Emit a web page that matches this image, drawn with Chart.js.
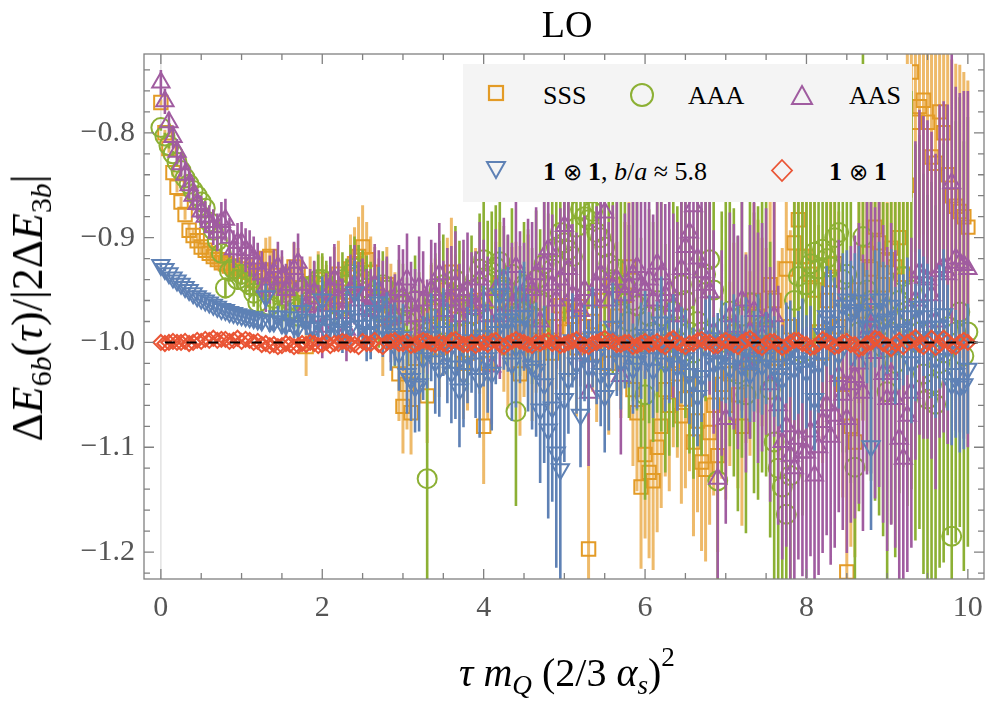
<!DOCTYPE html>
<html>
<head>
<meta charset="utf-8">
<script src="https://cdn.jsdelivr.net/npm/chart.js@4.4.1/dist/chart.umd.min.js"></script>
<style>
  body { margin: 0; background: #fff; }
  #wrap { position: relative; width: 996px; height: 705px; font-family: "Liberation Serif", "DejaVu Serif", serif; }
  #c { position: absolute; left: 0; top: 0; }
  .t { position: absolute; white-space: nowrap; color: #000; line-height: 1; font-family: "Liberation Serif", "DejaVu Serif", serif; }
  sub, sup { font-size: 0.68em; line-height: 0; }
  sub { vertical-align: -0.3em; }
  sup { vertical-align: 0.75em; }
  #title { left: 567px; top: 5px; font-size: 38px; transform: translateX(-50%); }
  #xtitle { left: 567px; top: 653px; font-size: 40px; transform: translateX(-50%); }
  #ytitle { left: 28px; top: 308px; font-size: 44px; transform: translate(-50%, -50%) rotate(-90deg); }
  #legend { position: absolute; left: 463px; top: 64px; width: 449px; height: 138px; background: #f4f4f4; }
  #legend .lt { position: absolute; font-size: 26px; line-height: 26px; white-space: nowrap; font-family: "Liberation Serif", "DejaVu Serif", serif; }
  .ot { font-family: "DejaVu Sans", sans-serif; font-weight: 200; font-size: 0.9em; }
</style>
</head>
<body>
<div id="wrap">
  <canvas id="c" width="996" height="705"></canvas>
  <div class="t" id="title">LO</div>
  <div class="t" id="ytitle">Δ<i>E</i><sub>6<i>b</i></sub>(<i>τ</i>)/|2Δ<i>E</i><sub>3<i>b</i></sub>|</div>
  <div class="t" id="xtitle"><i>τ</i> <i>m</i><sub><i>Q</i></sub> (2/3 <i>α</i><sub><i>s</i></sub>)<sup>2</sup></div>
  <div id="legend">
    <svg width="449" height="138" style="position:absolute;left:0;top:0">
      <rect x="26" y="22" width="14" height="14" fill="none" stroke="#E39B26" stroke-width="2.2"/>
      <circle cx="179" cy="31" r="11" fill="none" stroke="#8CB034" stroke-width="2"/>
      <polygon points="339,22 349,40 329,40" fill="none" stroke="#A05CA0" stroke-width="2"/>
      <polygon points="24,98 42,98 33,114" fill="none" stroke="#5E81B5" stroke-width="2"/>
      <polygon points="319,96 329,106.5 319,117 309,106.5" fill="none" stroke="#EA5535" stroke-width="1.8"/>
    </svg>
    <span class="lt" style="left:80px;top:19px">SSS</span>
    <span class="lt" style="left:225px;top:19px">AAA</span>
    <span class="lt" style="left:386px;top:19px">AAS</span>
    <span class="lt" style="left:80px;top:95px"><b>1</b> <span class="ot">⊗</span> <b>1</b>, <i>b</i>/<i>a</i> ≈ 5.8</span>
    <span class="lt" style="left:366px;top:95px"><b>1</b> <span class="ot">⊗</span> <b>1</b></span>
  </div>
</div>
<script>
// tau grid, shared by all series
const tau = [
  0.00,0.05,0.10,0.15,0.20,0.25,0.30,0.35,0.40,0.45,0.50,0.55,0.60,0.65,0.70,0.75,0.80,0.85,0.90,0.95,
  1.00,1.05,1.10,1.15,1.20,1.25,1.30,1.35,1.40,1.45,1.50,1.55,1.60,1.65,1.70,1.75,1.80,1.85,1.90,1.95,
  2.00,2.05,2.10,2.15,2.20,2.25,2.30,2.35,2.40,2.45,2.50,2.55,2.60,2.65,2.70,2.75,2.80,2.85,2.90,2.95,
  3.00,3.05,3.10,3.15,3.20,3.25,3.30,3.35,3.40,3.45,3.50,3.55,3.60,3.65,3.70,3.75,3.80,3.85,3.90,3.95,
  4.00,4.05,4.10,4.15,4.20,4.25,4.30,4.35,4.40,4.45,4.50,4.55,4.60,4.65,4.70,4.75,4.80,4.85,4.90,4.95,
  5.00,5.05,5.10,5.15,5.20,5.25,5.30,5.35,5.40,5.45,5.50,5.55,5.60,5.65,5.70,5.75,5.80,5.85,5.90,5.95,
  6.00,6.05,6.10,6.15,6.20,6.25,6.30,6.35,6.40,6.45,6.50,6.55,6.60,6.65,6.70,6.75,6.80,6.85,6.90,6.95,
  7.00,7.05,7.10,7.15,7.20,7.25,7.30,7.35,7.40,7.45,7.50,7.55,7.60,7.65,7.70,7.75,7.80,7.85,7.90,7.95,
  8.00,8.05,8.10,8.15,8.20,8.25,8.30,8.35,8.40,8.45,8.50,8.55,8.60,8.65,8.70,8.75,8.80,8.85,8.90,8.95,
  9.00,9.05,9.10,9.15,9.20,9.25,9.30,9.35,9.40,9.45,9.50,9.55,9.60,9.65,9.70,9.75,9.80,9.85,9.90,9.95,
  10.00
];

// SSS
const sss = [
  -0.771,-0.800,-0.815,-0.838,-0.852,-0.866,-0.878,-0.893,-0.898,-0.903,-0.909,-0.912,-0.915,-0.918,-0.921,-0.924,-0.925,-0.927,-0.929,-0.932,
  -0.930,-0.926,-0.933,-0.941,-0.938,-0.932,-0.920,-0.918,-0.945,-0.936,-0.940,-0.948,-0.950,-0.928,-0.935,-0.962,-1.004,-0.944,-0.955,-0.940,
  -0.948,-0.955,-0.962,-0.940,-0.935,-0.968,-0.952,-0.930,-0.925,-0.918,-0.909,-0.921,-0.933,-0.946,-0.958,-0.990,-0.945,-0.965,-0.975,-1.030,
  -1.061,-1.040,-1.067,-1.015,-1.000,-0.985,-1.051,-0.975,-0.970,-1.005,-0.985,-0.950,-0.933,-0.965,-0.990,-1.020,-1.010,-0.975,-0.960,-0.995,
  -1.080,-1.020,-0.985,-0.960,-0.945,-0.990,-1.005,-0.970,-0.960,-1.030,-0.990,-0.955,-1.015,-0.985,-0.975,-0.995,-1.000,-1.010,-0.985,-0.965,
  -0.990,-0.970,-0.975,-1.005,-0.966,-0.985,-1.197,-0.980,-1.010,-0.960,-0.990,-1.020,-0.945,-0.975,-1.000,-0.955,-0.928,-1.045,-1.067,-1.138,
  -1.107,-1.124,-1.132,-1.100,-1.080,-1.045,-1.060,-1.020,-1.030,-1.070,-1.054,-1.040,-1.095,-1.075,-1.114,-1.121,-1.086,-1.060,-1.108,-1.040,
  -1.060,-1.030,-0.990,-1.050,-1.080,-1.005,-1.020,-0.960,-0.975,-0.990,-1.000,-0.945,-0.960,-1.015,-1.010,-0.930,-0.985,-0.905,-0.883,-0.918,
  -0.918,-0.935,-0.950,-0.990,-1.010,-0.960,-0.940,-0.925,-0.985,-1.040,-1.219,-1.080,-1.095,-0.950,-0.970,-0.915,-0.930,-0.890,-0.905,-0.945,
  -0.921,-0.910,-0.928,-0.900,-0.935,-0.850,-0.742,-0.790,-0.775,-0.769,-0.790,-0.823,-0.829,-0.780,-0.800,-0.840,-0.860,-0.870,-0.875,-0.880,
  -0.890
];
const sssErr = [
  .003,.003,.004,.004,.005,.005,.005,.006,.006,.006,.007,.007,.008,.008,.009,.009,.010,.010,.011,.011,
  .012,.013,.014,.015,.016,.018,.020,.019,.018,.020,.022,.021,.020,.023,.025,.024,.028,.026,.024,.027,
  .030,.029,.028,.031,.032,.030,.030,.033,.035,.038,.040,.036,.034,.037,.038,.042,.036,.040,.042,.045,
  .045,.043,.040,.046,.048,.044,.045,.049,.050,.047,.046,.050,.052,.049,.048,.053,.055,.051,.050,.054,
  .055,.053,.052,.056,.060,.057,.058,.061,.056,.059,.062,.058,.060,.063,.058,.061,.064,.060,.060,.063,
  .065,.063,.062,.066,.068,.065,.130,.067,.066,.069,.070,.068,.068,.071,.072,.070,.070,.073,.075,.078,
  .080,.082,.085,.081,.078,.083,.082,.080,.080,.084,.085,.083,.090,.087,.085,.088,.088,.086,.092,.090,
  .090,.088,.085,.089,.095,.091,.088,.093,.092,.090,.090,.094,.095,.093,.100,.096,.092,.097,.098,.100,
  .100,.098,.095,.102,.105,.101,.100,.104,.110,.108,.120,.115,.110,.108,.105,.110,.115,.112,.110,.113,
  .115,.118,.120,.125,.130,.126,.120,.124,.125,.128,.130,.129,.128,.132,.135,.133,.130,.136,.140,.138,
  .140
];

// AAA
const aaa = [
  -0.795,-0.803,-0.812,-0.820,-0.828,-0.836,-0.843,-0.849,-0.855,-0.860,-0.866,-0.872,-0.885,-0.893,-0.903,-0.915,-0.948,-0.932,-0.930,-0.940,
  -0.935,-0.942,-0.945,-0.953,-0.962,-0.948,-0.950,-0.965,-0.958,-0.952,-0.970,-0.956,-0.960,-0.968,-0.975,-0.950,-0.955,-0.960,-0.945,-0.940,
  -0.940,-0.945,-0.950,-0.958,-0.965,-0.940,-0.945,-0.935,-0.929,-0.936,-0.940,-0.948,-0.955,-0.962,-0.970,-0.945,-0.950,-0.975,-0.985,-0.960,
  -0.965,-0.980,-0.990,-0.960,-0.975,-0.995,-1.130,-0.970,-0.960,-0.950,-0.945,-0.985,-0.975,-0.940,-0.955,-0.965,-0.990,-0.950,-0.965,-0.930,
  -0.921,-0.940,-0.933,-0.928,-0.923,-0.950,-0.960,-0.935,-1.066,-0.970,-0.945,-0.955,-0.975,-0.940,-0.960,-0.925,-0.947,-0.930,-0.909,-0.895,
  -0.905,-0.912,-0.918,-0.890,-0.873,-0.880,-0.883,-0.875,-0.895,-0.900,-0.909,-0.925,-0.940,-0.930,-0.955,-0.945,-0.980,-0.960,-0.965,-1.000,
  -1.050,-0.975,-0.990,-0.960,-0.975,-1.015,-1.000,-0.970,-0.985,-0.945,-0.960,-0.990,-1.010,-0.980,-0.990,-0.935,-0.921,-0.950,-1.132,-1.000,
  -0.985,-0.970,-1.000,-1.030,-0.975,-1.050,-0.962,-1.010,-1.010,-0.985,-0.990,-1.045,-1.095,-1.120,-1.138,-1.164,-1.127,-0.960,-0.937,-1.010,
  -0.945,-0.925,-0.914,-0.930,-0.911,-0.920,-0.928,-0.900,-0.895,-0.940,-0.935,-0.965,-1.119,-0.990,-0.899,-0.950,-0.960,-0.975,-0.985,-1.005,
  -1.047,-0.990,-1.020,-0.960,-0.937,-0.970,-0.950,-1.000,-0.990,-1.030,-1.054,-1.040,-1.059,-1.020,-1.010,-0.985,-1.185,-0.990,-0.971,-1.013,
  -0.990
];
const aaaErr = [
  .003,.003,.003,.003,.004,.004,.004,.004,.005,.005,.005,.006,.006,.006,.007,.008,.010,.009,.009,.010,
  .010,.011,.012,.013,.014,.013,.013,.015,.015,.016,.018,.017,.016,.019,.020,.019,.018,.021,.022,.024,
  .025,.023,.022,.026,.028,.026,.025,.028,.030,.029,.028,.031,.032,.033,.035,.032,.030,.034,.038,.039,
  .040,.042,.045,.043,.042,.044,.100,.046,.045,.047,.048,.049,.050,.051,.052,.053,.055,.052,.050,.053,
  .055,.056,.058,.059,.060,.061,.062,.063,.090,.062,.060,.063,.065,.066,.068,.069,.070,.071,.072,.073,
  .075,.076,.078,.079,.080,.082,.085,.083,.082,.085,.088,.089,.090,.092,.095,.094,.092,.096,.100,.100,
  .100,.102,.105,.107,.110,.109,.108,.111,.115,.113,.112,.116,.120,.119,.118,.121,.125,.122,.120,.125,
  .130,.129,.128,.131,.135,.132,.130,.134,.140,.139,.138,.141,.145,.148,.150,.149,.148,.151,.155,.155,
  .155,.158,.160,.159,.158,.162,.165,.163,.160,.165,.170,.169,.168,.171,.175,.173,.172,.176,.180,.180,
  .180,.183,.185,.184,.182,.186,.190,.189,.188,.191,.195,.193,.190,.195,.200,.199,.198,.201,.205,.205,
  .205
];

// AAS
const aas = [
  -0.752,-0.770,-0.790,-0.804,-0.818,-0.830,-0.840,-0.850,-0.860,-0.868,-0.875,-0.880,-0.885,-0.890,-0.895,-0.885,-0.883,-0.900,-0.911,-0.905,
  -0.905,-0.912,-0.915,-0.920,-0.925,-0.935,-0.947,-0.940,-0.933,-0.928,-0.938,-0.950,-0.945,-0.930,-0.924,-0.945,-0.966,-0.958,-0.952,-0.975,
  -0.985,-0.965,-0.950,-0.940,-0.958,-0.972,-0.988,-0.950,-0.945,-0.960,-0.955,-0.968,-0.970,-0.945,-0.950,-0.962,-0.960,-0.978,-0.975,-0.950,
  -0.956,-0.940,-0.965,-0.975,-0.947,-0.960,-0.985,-0.950,-0.955,-0.935,-0.970,-0.960,-0.960,-0.945,-0.975,-0.955,-0.950,-0.968,-0.965,-0.940,
  -0.960,-0.975,-1.023,-0.950,-0.975,-0.940,-0.955,-0.965,-0.928,-0.955,-0.965,-0.945,-0.950,-0.935,-0.980,-0.925,-0.911,-0.945,-0.960,-0.940,
  -0.889,-0.930,-0.955,-0.965,-0.970,-0.950,-1.048,-0.960,-0.945,-0.935,-0.876,-0.960,-0.947,-0.940,-1.032,-0.955,-0.947,-0.935,-0.928,-0.945,
  -0.950,-0.940,-0.960,-0.925,-0.935,-0.955,-0.950,-0.965,-0.975,-0.930,-0.909,-0.895,-0.870,-0.920,-0.933,-0.945,-0.952,-0.990,-1.130,-1.010,
  -1.073,-0.975,-0.985,-1.000,-0.960,-1.020,-0.990,-0.970,-1.005,-0.995,-0.980,-1.040,-0.975,-1.060,-1.095,-1.080,-1.108,-1.120,-1.092,-1.105,
  -1.105,-1.085,-1.127,-1.100,-1.076,-1.060,-1.090,-1.070,-1.032,-1.050,-1.073,-1.040,-1.033,-1.020,-1.048,-0.990,-0.985,-1.010,-1.000,-1.030,
  -1.054,-1.030,-1.054,-1.092,-1.111,-1.070,-1.048,-0.960,-0.933,-0.938,-0.940,-0.955,-0.980,-0.932,-0.928,-0.935,-0.848,-0.920,-0.924,-0.926,
  -0.930
];
const aasErr = [
  .012,.012,.010,.011,.012,.012,.012,.013,.014,.014,.015,.015,.016,.017,.018,.019,.020,.019,.018,.019,
  .020,.021,.022,.021,.020,.022,.024,.023,.022,.024,.026,.025,.024,.026,.028,.027,.026,.028,.030,.030,
  .030,.031,.032,.034,.035,.033,.030,.034,.038,.037,.035,.038,.040,.039,.038,.040,.042,.041,.040,.043,
  .045,.044,.042,.045,.048,.047,.045,.048,.050,.049,.048,.050,.052,.051,.050,.053,.055,.054,.052,.055,
  .058,.057,.055,.058,.060,.059,.058,.060,.062,.061,.060,.063,.065,.064,.062,.065,.068,.067,.065,.068,
  .070,.069,.068,.070,.072,.071,.070,.073,.075,.074,.072,.075,.078,.077,.075,.078,.080,.079,.078,.082,
  .085,.084,.082,.085,.088,.087,.085,.088,.090,.089,.088,.092,.095,.094,.092,.096,.098,.097,.095,.098,
  .100,.099,.098,.102,.105,.104,.102,.106,.110,.109,.108,.112,.115,.114,.112,.115,.118,.117,.115,.118,
  .120,.119,.118,.122,.125,.124,.122,.126,.130,.129,.128,.132,.135,.134,.132,.136,.140,.139,.138,.142,
  .145,.144,.142,.146,.150,.149,.148,.152,.155,.154,.152,.156,.160,.159,.158,.162,.165,.164,.162,.166,
  .170
];

// 1x1, b/a ~ 5.8
const oneBa = [
  -0.926,-0.930,-0.934,-0.938,-0.941,-0.944,-0.947,-0.950,-0.953,-0.956,-0.958,-0.960,-0.962,-0.964,-0.966,-0.968,-0.969,-0.971,-0.972,-0.973,
  -0.974,-0.975,-0.976,-0.977,-0.978,-0.979,-0.956,-0.980,-0.980,-0.975,-0.982,-0.983,-0.976,-0.984,-0.985,-0.970,-0.978,-0.986,-0.986,-0.980,
  -0.959,-0.988,-0.983,-0.975,-0.988,-0.990,-0.975,-0.985,-0.952,-0.978,-0.984,-0.992,-0.990,-0.970,-0.962,-0.985,-0.980,-0.995,-0.992,-1.010,
  -0.995,-1.030,-1.035,-1.042,-1.040,-1.015,-1.008,-0.995,-1.018,-1.025,-0.990,-1.010,-1.029,-1.023,-1.045,-1.030,-1.012,-0.998,-1.020,-1.035,
  -0.994,-1.015,-1.029,-0.990,-0.954,-0.978,-0.978,-1.020,-1.004,-0.985,-0.975,-1.010,-1.023,-1.026,-1.064,-1.040,-1.083,-1.062,-1.105,-1.121,
  -1.054,-1.035,-0.998,-1.020,-1.069,-1.010,-1.023,-0.995,-1.012,-1.030,-1.051,-1.035,-0.985,-1.005,-1.018,-1.000,-1.003,-1.025,-1.019,-1.008,
  -0.993,-1.015,-1.026,-1.004,-0.981,-1.020,-1.010,-0.998,-1.023,-1.012,-1.015,-1.030,-1.038,-1.051,-1.032,-1.005,-0.996,-1.020,-1.018,-1.008,
  -1.010,-1.025,-0.998,-1.012,-1.023,-1.005,-1.030,-1.018,-1.004,-1.022,-1.015,-1.000,-1.023,-1.030,-1.035,-1.010,-1.006,-1.025,-1.019,-1.008,
  -1.028,-1.015,-1.054,-1.020,-0.992,-0.975,-0.981,-0.990,-1.011,-0.965,-0.959,-0.972,-0.969,-0.960,-0.974,-0.985,-1.099,-0.968,-0.959,-0.980,
  -0.978,-0.965,-1.003,-0.990,-0.988,-0.975,-1.019,-1.000,-0.966,-0.975,-0.985,-0.995,-1.016,-0.985,-0.973,-1.005,-1.040,-1.030,-1.042,-1.040,
  -1.025
];
const oneBaErr = [
  .002,.002,.002,.002,.003,.003,.003,.003,.003,.004,.004,.004,.004,.005,.005,.005,.005,.006,.006,.006,
  .006,.007,.007,.008,.008,.009,.012,.010,.009,.010,.010,.011,.014,.012,.011,.016,.015,.013,.013,.015,
  .022,.018,.016,.019,.018,.020,.024,.022,.030,.025,.022,.026,.026,.030,.034,.029,.028,.032,.030,.036,
  .032,.038,.040,.044,.045,.040,.036,.042,.050,.046,.042,.048,.048,.050,.055,.051,.046,.050,.052,.056,
  .048,.052,.055,.050,.045,.048,.050,.055,.058,.054,.052,.056,.060,.064,.070,.075,.085,.090,.110,.115,
  .060,.052,.045,.048,.050,.046,.044,.048,.047,.050,.054,.049,.042,.046,.046,.044,.040,.043,.044,.046,
  .042,.044,.046,.043,.044,.046,.048,.044,.042,.046,.046,.048,.052,.048,.044,.046,.041,.044,.046,.048,
  .048,.046,.044,.047,.049,.048,.046,.048,.050,.047,.044,.047,.048,.050,.051,.048,.046,.049,.049,.050,
  .054,.050,.049,.047,.046,.048,.050,.052,.052,.050,.047,.050,.054,.052,.050,.054,.080,.056,.055,.057,
  .052,.054,.056,.055,.053,.056,.058,.056,.055,.057,.060,.058,.056,.059,.062,.060,.058,.061,.063,.062,
  .062
];

// 1x1
const one = [
  -1.000,-1.001,-1.000,-0.999,-1.000,-1.000,-0.999,-1.001,-1.000,-0.998,-0.999,-0.997,-0.998,-0.996,-0.998,-0.997,-0.997,-0.999,-0.998,-0.996,
  -0.999,-0.997,-0.998,-1.000,-0.999,-1.002,-1.001,-1.003,-1.002,-1.004,-1.003,-1.001,-1.002,-1.004,-1.003,-1.001,-1.002,-1.000,-1.001,-1.003,
  -1.002,-1.000,-1.003,-1.001,-1.001,-0.999,-1.000,-1.002,-1.002,-1.004,-0.999,-1.001,-1.001,-0.998,-1.002,-1.004,-1.000,-0.999,-0.998,-1.001,
  -1.001,-0.999,-1.003,-1.002,-1.000,-0.998,-0.999,-1.001,-1.002,-1.000,-1.001,-1.003,-0.998,-0.997,-1.000,-1.002,-1.002,-1.000,-1.003,-1.001,
  -1.000,-1.002,-0.999,-0.998,-1.002,-1.004,-1.001,-0.999,-0.997,-0.999,-1.000,-1.002,-1.003,-1.000,-1.001,-0.999,-0.998,-1.001,-1.000,-1.003,
  -1.002,-1.000,-0.999,-0.997,-1.001,-1.003,-1.004,-1.001,-1.000,-0.998,-0.996,-0.999,-0.999,-1.002,-1.002,-1.000,-1.000,-1.004,-1.003,-1.001,
  -0.999,-1.002,-1.001,-0.999,-1.002,-1.004,-0.998,-0.996,-1.000,-1.002,-1.004,-1.001,-1.001,-0.998,-0.997,-1.000,-1.000,-1.003,-1.003,-1.000,
  -0.998,-1.000,-1.002,-1.004,-1.000,-0.998,-0.996,-0.999,-1.003,-1.005,-1.001,-0.999,-0.999,-1.002,-1.005,-1.003,-1.000,-0.998,-0.998,-1.001,
  -1.002,-1.005,-1.004,-1.001,-0.997,-0.999,-1.001,-1.004,-1.003,-1.000,-0.999,-1.002,-1.002,-1.006,-1.005,-1.001,-1.000,-0.996,-0.997,-1.001,
  -1.003,-1.006,-1.001,-0.998,-1.004,-1.000,-0.998,-0.995,-1.002,-1.004,-1.000,-0.996,-1.005,-1.002,-0.996,-0.999,-1.003,-1.004,-1.000,-0.998,
  -1.000
];

const xMajor = [0, 2, 4, 6, 8, 10];
const yMajor = [-1.2, -1.1, -1.0, -0.9, -0.8];

const pts = (vals) => tau.map((x, i) => ({ x, y: vals[i] }));

// vertical error bars, drawn under each series' markers
const errorBars = {
  id: 'errorBars',
  beforeDatasetDraw(chart, args) {
    const ds = chart.data.datasets[args.index];
    if (!ds.errors) return;
    const { ctx, chartArea: a, scales: { x, y } } = chart;
    ctx.save();
    ctx.beginPath();
    ctx.rect(a.left, a.top, a.width, a.height);
    ctx.clip();
    ctx.strokeStyle = ds.errorColor;
    ctx.lineWidth = ds.errorWidth;
    ctx.beginPath();
    ds.data.forEach((p, i) => {
      const px = x.getPixelForValue(p.x);
      ctx.moveTo(px, y.getPixelForValue(p.y - ds.errors[i]));
      ctx.lineTo(px, y.getPixelForValue(p.y + ds.errors[i]));
    });
    ctx.stroke();
    ctx.restore();
  }
};

// frame, inward ticks, x=0 axis line and the dashed -1 line
const frame = {
  id: 'frame',
  beforeDatasetsDraw(chart) {
    const { ctx, chartArea: a, scales: { x } } = chart;
    const px = x.getPixelForValue(0);
    ctx.save();
    ctx.strokeStyle = '#e2e2e2';
    ctx.lineWidth = 1.5;
    ctx.beginPath(); ctx.moveTo(px, a.top); ctx.lineTo(px, a.bottom); ctx.stroke();
    ctx.restore();
  },
  afterDatasetsDraw(chart) {
    const { ctx, chartArea: a, scales: { x, y } } = chart;
    ctx.save();
    const py = y.getPixelForValue(-1);
    ctx.setLineDash([10, 11.7]);
    ctx.strokeStyle = '#000';
    ctx.lineWidth = 2;
    ctx.beginPath(); ctx.moveTo(x.getPixelForValue(0.05), py); ctx.lineTo(a.right, py); ctx.stroke();
    ctx.setLineDash([]);

    ctx.strokeStyle = '#808080';
    ctx.lineWidth = 1.3;
    ctx.strokeRect(a.left, a.top, a.width, a.height);
    ctx.beginPath();
    for (let k = 0; k <= 20; k++) {
      const len = k % 4 === 0 ? 10 : 6;
      const px = x.getPixelForValue(k * 0.5);
      ctx.moveTo(px, a.bottom); ctx.lineTo(px, a.bottom - len);
      ctx.moveTo(px, a.top); ctx.lineTo(px, a.top + len);
    }
    for (let k = -61; k <= -37; k++) {
      const len = k % 5 === 0 ? 10 : 6;
      const pyy = y.getPixelForValue(k * 0.02);
      ctx.moveTo(a.left, pyy); ctx.lineTo(a.left + len, pyy);
      ctx.moveTo(a.right, pyy); ctx.lineTo(a.right - len, pyy);
    }
    ctx.stroke();
    ctx.restore();
  }
};

const tickFont = { family: "'Liberation Serif', 'DejaVu Serif', serif", size: 30 };

new Chart(document.getElementById('c'), {
  type: 'scatter',
  data: {
    datasets: [
      { label: 'SSS', data: pts(sss), errors: sssErr, errorColor: 'rgba(232,160,48,0.72)', errorWidth: 3,
        pointStyle: 'rect', pointRadius: 9.5, pointBorderWidth: 2, pointBorderColor: '#E39B26',
        pointBackgroundColor: 'rgba(0,0,0,0)', order: 5 },
      { label: 'AAA', data: pts(aaa), errors: aaaErr, errorColor: '#8CB034', errorWidth: 2.6,
        pointStyle: 'circle', pointRadius: 9.5, pointBorderWidth: 2, pointBorderColor: '#8CB034',
        pointBackgroundColor: 'rgba(0,0,0,0)', order: 4 },
      { label: 'AAS', data: pts(aas), errors: aasErr, errorColor: '#A05CA0', errorWidth: 2.6,
        pointStyle: 'triangle', pointRadius: 10, pointBorderWidth: 2, pointBorderColor: '#A05CA0',
        pointBackgroundColor: 'rgba(0,0,0,0)', order: 3 },
      { label: '1⊗1, b/a≈5.8', data: pts(oneBa), errors: oneBaErr, errorColor: '#5E81B5', errorWidth: 2.6,
        pointStyle: 'triangle', pointRotation: 180, pointRadius: 10, pointBorderWidth: 2, pointBorderColor: '#5E81B5',
        pointBackgroundColor: 'rgba(0,0,0,0)', order: 2 },
      { label: '1⊗1', data: pts(one),
        pointStyle: 'rectRot', pointRadius: 7.5, pointBorderWidth: 2, pointBorderColor: '#EA5535',
        pointBackgroundColor: 'rgba(0,0,0,0)', order: 1 }
    ]
  },
  options: {
    responsive: false,
    animation: false,
    layout: { padding: { top: 54, right: 4, left: 0, bottom: 0 } },
    plugins: { legend: { display: false }, tooltip: { enabled: false } },
    scales: {
      x: {
        type: 'linear', min: -0.209, max: 10.2,
        afterBuildTicks: s => { s.ticks = xMajor.map(v => ({ value: v })); },
        afterFit: s => { s.height = 126; },
        grid: { display: false, drawTicks: false }, border: { display: false },
        ticks: { font: tickFont, color: '#555', padding: 11, maxRotation: 0, autoSkip: false,
                 callback: v => String(v) }
      },
      y: {
        type: 'linear', min: -1.2257, max: -0.7248,
        afterBuildTicks: s => { s.ticks = yMajor.map(v => ({ value: v })); },
        afterFit: s => { s.width = 144; },
        grid: { display: false, drawTicks: false }, border: { display: false },
        ticks: { font: tickFont, color: '#555', padding: 9, autoSkip: false,
                 callback: v => '\u2212' + Math.abs(v).toFixed(1) }
      }
    }
  },
  plugins: [errorBars, frame]
});
</script>
</body>
</html>
